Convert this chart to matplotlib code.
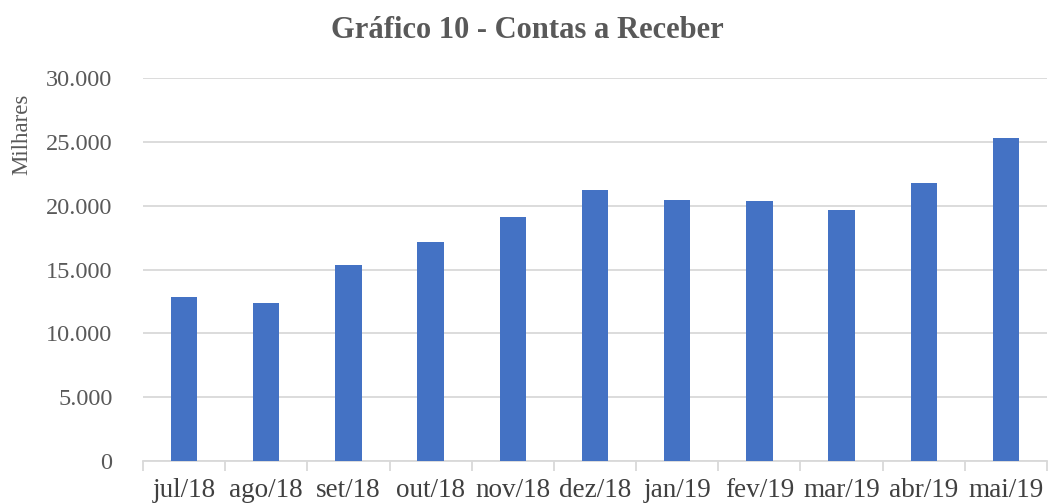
import matplotlib.pyplot as plt
from matplotlib.ticker import FuncFormatter

plt.rcParams['font.family'] = ['Liberation Serif', 'DejaVu Serif']

# dados (milhares)
meses = ["jul/18", "ago/18", "set/18", "out/18", "nov/18", "dez/18",
         "jan/19", "fev/19", "mar/19", "abr/19", "mai/19"]
valores = [12850, 12350, 15350, 17150, 19100, 21220,
           20450, 20370, 19660, 21780, 25290]

fig = plt.figure(figsize=(10.49, 5.04), dpi=100)
ax = fig.add_axes([143 / 1049, 1 - 461 / 504, (1047 - 143) / 1049, (461 - 78) / 504])

x = range(len(meses))
ax.bar(x, valores, width=0.32, color="#4472C4", zorder=3)

ax.set_xlim(-0.5, len(meses) - 0.5)
ax.set_ylim(0, 30000)
ax.set_yticks(range(0, 30001, 5000))
ax.yaxis.set_major_formatter(FuncFormatter(lambda v, p: f"{int(v):,}".replace(",", ".")))
ax.grid(axis="y", color="#D9D9D9", linewidth=1.3, zorder=0)

ax.set_xticks(list(x))
ax.set_xticklabels(meses)
ax.set_xticks([i + 0.5 for i in range(-1, len(meses))], minor=True)
ax.tick_params(axis="x", which="major", length=0, pad=12, labelsize=19.5, colors="#404040")
ax.tick_params(axis="x", which="minor", length=7, color="#D9D9D9", width=1.3)
ax.tick_params(axis="y", length=0, pad=22, labelsize=17.5, colors="#595959")

for s in ["top", "right", "left"]:
    ax.spines[s].set_visible(False)
ax.spines["bottom"].set_color("#D9D9D9")
ax.spines["bottom"].set_linewidth(1.3)

fig.text(22 / 1049, 1 - 134 / 504, "Milhares", rotation=90, ha="center", va="center",
         fontsize=16.5, color="#595959")
fig.text(527 / 1049, 1 - 31 / 504, "Gráfico 10 - Contas a Receber", ha="center", va="center",
         fontsize=22, fontweight="bold", color="#595959")

fig.savefig("out.png", dpi=100)
